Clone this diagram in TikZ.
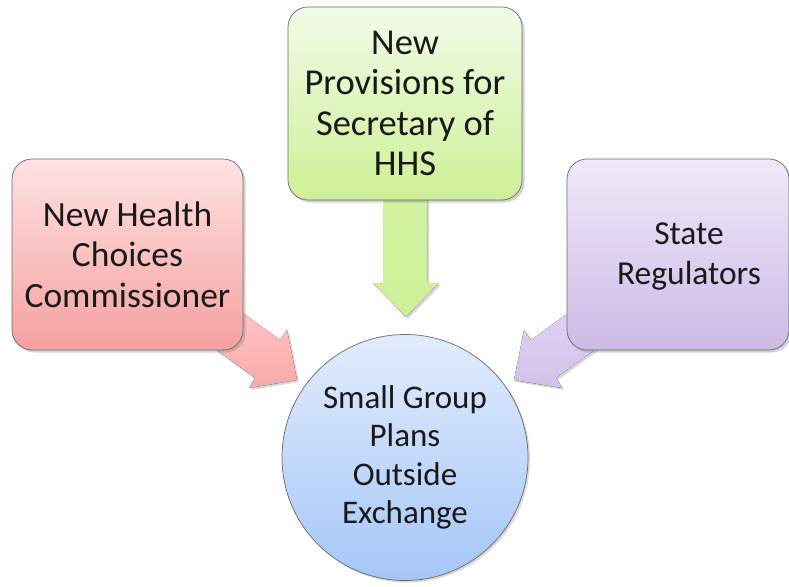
\documentclass[tikz,border=0pt]{standalone}
\usepackage{fontspec}
\setmainfont{Carlito}
\usetikzlibrary{shadows,calc}
\definecolor{bordergray}{RGB}{105,105,105}
\definecolor{txt}{RGB}{25,25,25}
\definecolor{redtop}{RGB}{255,226,226}
\definecolor{redbot}{RGB}{246,160,160}
\definecolor{redarr}{RGB}{250,170,170}
\definecolor{greentop}{RGB}{242,251,232}
\definecolor{greenbot}{RGB}{205,240,150}
\definecolor{greenarr}{RGB}{210,242,160}
\definecolor{purptop}{RGB}{240,233,249}
\definecolor{purpbot}{RGB}{204,186,230}
\definecolor{purparr}{RGB}{210,192,234}
\definecolor{bluetop}{RGB}{226,236,252}
\definecolor{bluebot}{RGB}{164,198,248}
\tikzset{
  boxstyle/.style={draw=bordergray, line width=0.7pt, rounded corners=20pt,
    align=center, text=txt,
    drop shadow={opacity=0.35, shadow xshift=2.5pt, shadow yshift=-2.5pt}},
  circstyle/.style={circle, draw=bordergray, line width=0.7pt, align=center, text=txt,
    font=\fontsize{33}{38.5}\selectfont, minimum size=246pt, inner sep=0pt,
    top color=bluetop, bottom color=bluebot,
    drop shadow={opacity=0.3, shadow xshift=2pt, shadow yshift=-2pt}},
  arrowstyle/.style={drop shadow={opacity=0.3, shadow xshift=2pt, shadow yshift=-2pt}}
}
\begin{document}
\begin{tikzpicture}[x=1pt,y=-1pt]
\useasboundingbox (0,0) rectangle (789,586);
% block arrows (behind boxes)
\fill[arrowstyle, top color=redtop!60!redarr, bottom color=redarr]
  (207,287) -- (280,340) -- (287,330) -- (297,380) -- (249,388) -- (255,378) -- (182,325) -- cycle;
\fill[arrowstyle, top color=purptop!60!purparr, bottom color=purparr]
  (604,287) -- (531,340) -- (524,330) -- (514,380) -- (562,388) -- (556,378) -- (629,325) -- cycle;
\fill[arrowstyle, top color=greenarr, bottom color=greenbot]
  (383,180) -- (383,283) -- (373,283) -- (406,317) -- (439,283) -- (427,283) -- (427,180) -- cycle;
% boxes
\node[boxstyle, minimum width=231pt, minimum height=191pt, top color=redtop, bottom color=redbot,
  font=\fontsize{35.5}{40.5}\selectfont]
  (hc) at (127.5,254.5) {New Health\\Choices\\Commissioner};
\node[boxstyle, minimum width=234pt, minimum height=193pt, top color=greentop, bottom color=greenbot,
  font=\fontsize{36.5}{40.5}\selectfont]
  (hhs) at (405,103.5) {New\\Provisions for\\Secretary of\\HHS};
\node[boxstyle, minimum width=222pt, minimum height=191pt, top color=purptop, bottom color=purpbot]
  (sr) at (678,254.5) {};
\node[align=center, text=txt, font=\fontsize{33.5}{40}\selectfont] (srt) at (689,257) {State\\Regulators};
% circle
\node[circstyle] (sg) at (405,457.5) {Small Group\\Plans\\Outside\\Exchange};
\end{tikzpicture}
\end{document}
